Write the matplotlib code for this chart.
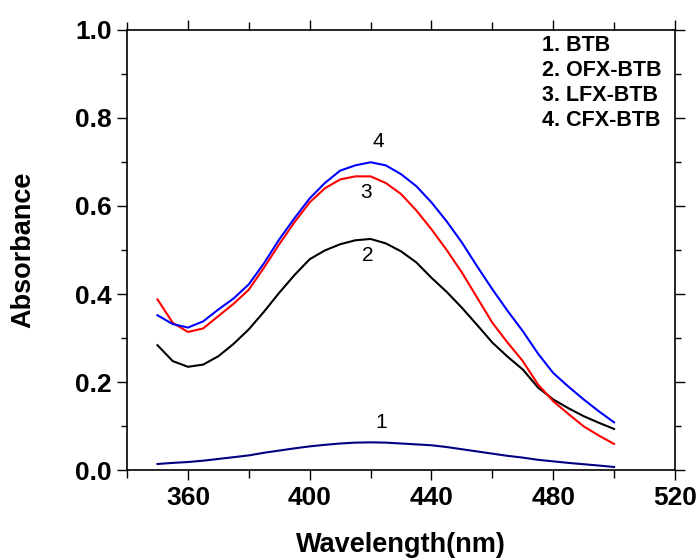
import matplotlib
matplotlib.use("Agg")
import matplotlib.pyplot as plt
from matplotlib.ticker import MultipleLocator, FormatStrFormatter

plt.rcParams['font.family'] = ['Liberation Sans', 'DejaVu Sans']

wl = [350, 355, 360, 365, 370, 375, 380, 385, 390, 395, 400, 405, 410, 415, 420,
      425, 430, 435, 440, 445, 450, 455, 460, 465, 470, 475, 480, 485, 490, 495, 500]
btb = [0.0145, 0.017, 0.019, 0.022, 0.026, 0.030, 0.034, 0.040, 0.045, 0.050, 0.0545,
       0.058, 0.061, 0.063, 0.0636, 0.063, 0.061, 0.059, 0.057, 0.053, 0.048, 0.043,
       0.038, 0.033, 0.029, 0.024, 0.0205, 0.017, 0.014, 0.011, 0.0077]
ofx = [0.284, 0.248, 0.235, 0.240, 0.259, 0.287, 0.320, 0.360, 0.403, 0.443, 0.479,
       0.499, 0.513, 0.522, 0.525, 0.515, 0.497, 0.472, 0.437, 0.405, 0.369, 0.330,
       0.290, 0.258, 0.229, 0.188, 0.161, 0.141, 0.123, 0.108, 0.094]
lfx = [0.388, 0.335, 0.314, 0.322, 0.350, 0.378, 0.410, 0.460, 0.513, 0.563, 0.608,
       0.640, 0.660, 0.667, 0.667, 0.652, 0.627, 0.590, 0.547, 0.500, 0.449, 0.392,
       0.335, 0.290, 0.248, 0.195, 0.157, 0.128, 0.100, 0.079, 0.060]
cfx = [0.352, 0.332, 0.324, 0.338, 0.365, 0.390, 0.422, 0.470, 0.524, 0.572, 0.617,
       0.652, 0.680, 0.692, 0.699, 0.692, 0.672, 0.645, 0.608, 0.565, 0.517, 0.463,
       0.411, 0.362, 0.316, 0.265, 0.221, 0.190, 0.161, 0.134, 0.109]

series = [btb, ofx, lfx, cfx]
colors = ['#000080', '#000000', '#ff0000', '#0000ff']
curve_ids = ['1', '2', '3', '4']
label_pos = [(423.5, 0.108), (419, 0.488), (418.6, 0.631), (422.6, 0.747)]
legend_lines = ['1. BTB', '2. OFX-BTB', '3. LFX-BTB', '4. CFX-BTB']

fig = plt.figure(figsize=(6.98, 5.58), dpi=100)
ax = fig.add_axes([0.182, 0.157, 0.785, 0.790])

for s, c in zip(series, colors):
    ax.plot(wl, s, color=c, lw=1.5)

for t, (x, y) in zip(curve_ids, label_pos):
    ax.text(x, y, t, fontsize=15, ha='center', va='center')

for i, t in enumerate(legend_lines):
    ax.text(0.757, 0.964 - i * 0.0566, t, transform=ax.transAxes, fontsize=15.5,
            fontweight='bold', ha='left', va='center')

ax.set_xlim(340, 520)
ax.set_ylim(0, 1.0)
ax.set_xticks([360, 400, 440, 480, 520])
ax.xaxis.set_minor_locator(MultipleLocator(20))
ax.yaxis.set_major_locator(MultipleLocator(0.2))
ax.yaxis.set_minor_locator(MultipleLocator(0.1))
ax.yaxis.set_major_formatter(FormatStrFormatter('%.1f'))
ax.tick_params(which='both', direction='out', top=True, right=True, width=1.0)
ax.tick_params(which='major', length=7, labelsize=19, pad=4)
ax.tick_params(which='minor', length=4)
ax.tick_params(axis='x', which='minor', length=6)
for lab in ax.get_xticklabels() + ax.get_yticklabels():
    lab.set_fontweight('bold')
for sp in ax.spines.values():
    sp.set_linewidth(1.2)

ax.set_xlabel('Wavelength(nm)', fontsize=19.5, fontweight='bold', labelpad=16)
ax.set_ylabel('Absorbance', fontsize=19.5, fontweight='bold', labelpad=28)

fig.savefig('out.png', dpi=100)
